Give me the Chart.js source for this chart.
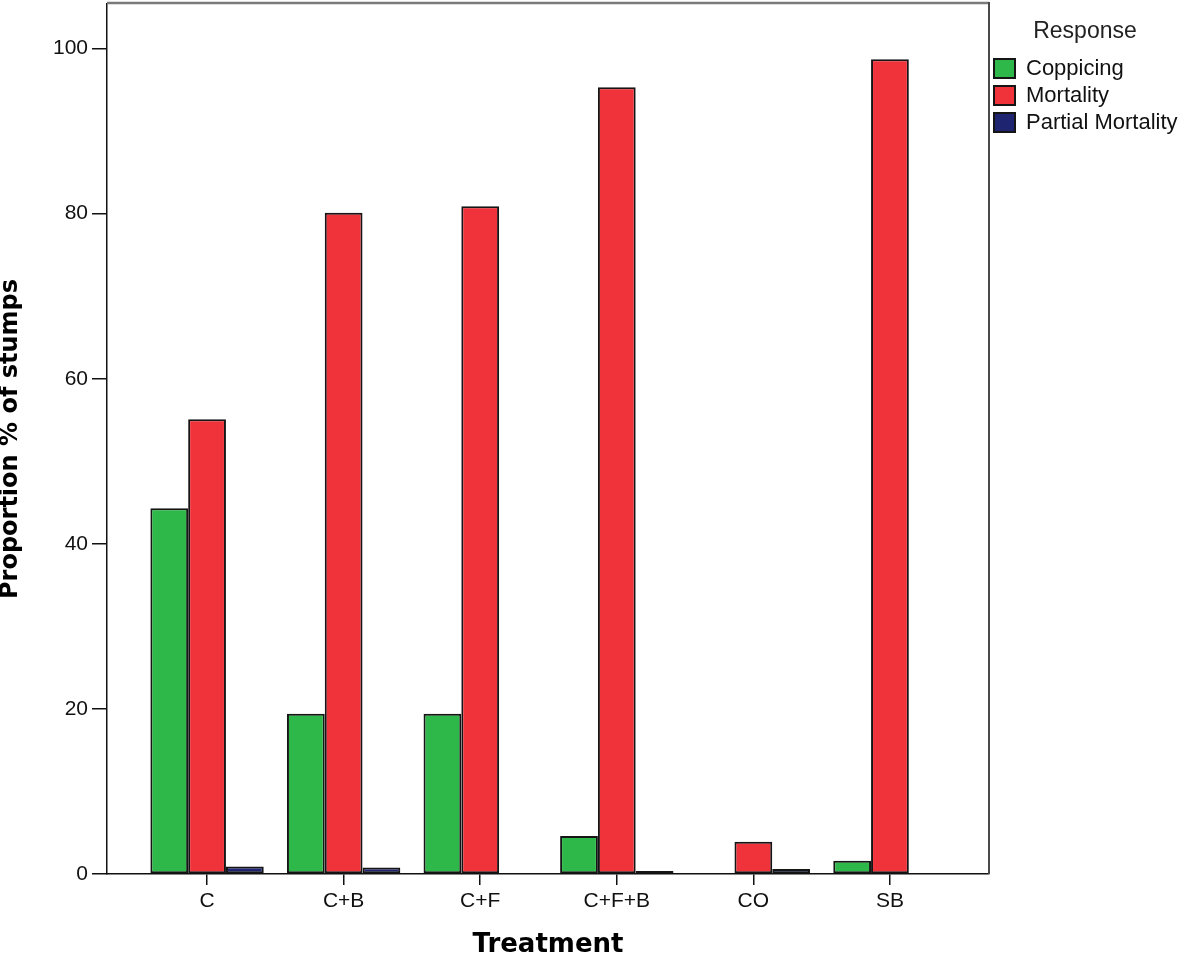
<!DOCTYPE html>
<html><head><meta charset="utf-8">
<script src="https://cdn.jsdelivr.net/npm/chart.js@4/dist/chart.umd.min.js"></script>
<style>html,body{margin:0;padding:0;background:#fff}#wrap{width:1181px;height:961px;position:relative}</style>
</head><body><div id="wrap"><canvas id="c"></canvas></div>
<script>
const treatments = ['C', 'C+B', 'C+F', 'C+F+B', 'CO', 'SB'];
const positions = [1, 2, 3, 4, 5, 6];
const coppicing = [44.3, 19.4, 19.4, 4.6, null, 1.6];
const mortality = [55.1, 80.1, 80.9, 95.3, 3.9, 98.7];
const partialMortality = [0.9, 0.8, null, 0.35, 0.6, null];
const yTicks = [0, 20, 40, 60, 80, 100];
const seriesNames = ['Coppicing', 'Mortality', 'Partial Mortality'];

const LEGEND_W = 192;
const toPoints = arr => arr.map((v, i) => ({x: positions[i], y: v}));

const frame = {
  id: 'frame',
  beforeLayout(chart) {
    const lg = chart.legend;
    if (lg && !lg._patched) {
      const f = lg.fit.bind(lg);
      lg.fit = function () { f(); this.width = LEGEND_W; };
      lg._patched = true;
    }
  },
  afterDraw(chart) {
    const {ctx, chartArea: a} = chart;
    ctx.save();
    ctx.strokeStyle = '#7a7a7a';
    ctx.lineWidth = 2.5;
    ctx.beginPath();
    ctx.moveTo(a.left, a.top - 1);
    ctx.lineTo(a.right, a.top - 1);
    ctx.stroke();
    ctx.strokeStyle = '#4a4a4a';
    ctx.lineWidth = 2;
    ctx.beginPath();
    ctx.moveTo(a.right, a.top - 2);
    ctx.lineTo(a.right, a.bottom);
    ctx.stroke();
    ctx.restore();
  }
};

const colors = ['#2eb84a', '#f0323a', '#1e2470'];
const series = [coppicing, mortality, partialMortality];

new Chart(document.getElementById('c'), {
  type: 'bar',
  data: {
    datasets: series.map((s, i) => ({
      label: seriesNames[i],
      data: toPoints(s),
      backgroundColor: colors[i],
      borderColor: '#151515',
      borderWidth: 2,
      borderSkipped: false,
      barPercentage: 1.0,
      categoryPercentage: 0.83
    }))
  },
  options: {
    responsive: true,
    maintainAspectRatio: false,
    animation: false,
    devicePixelRatio: 1,
    layout: {padding: {top: 4, left: 0, right: 0, bottom: 0}},
    plugins: {
      tooltip: {enabled: false},
      legend: {
        position: 'right',
        align: 'start',
        title: {
          display: true,
          text: 'Response',
          color: '#222',
          font: {family: 'Liberation Sans', size: 23},
          padding: {top: 16, bottom: 5}
        },
        labels: {
          color: '#111',
          font: {family: 'Liberation Sans', size: 22},
          boxWidth: 21,
          boxHeight: 19,
          padding: 5
        }
      }
    },
    scales: {
      x: {
        type: 'linear',
        offset: false,
        min: 1 - 100 / 136.5,
        max: 6 + 99 / 136.5,
        afterBuildTicks: s => { s.ticks = positions.map(v => ({value: v})); },
        afterFit: s => { s.height = 87; s.paddingLeft = 0; s.paddingRight = 0; },
        ticks: {
          autoSkip: false,
          maxRotation: 0,
          padding: 4,
          color: '#111',
          font: {family: 'Liberation Sans', size: 21},
          callback: v => treatments[positions.indexOf(v)] ?? ''
        },
        grid: {offset: false, drawOnChartArea: false, drawTicks: true, tickLength: 11, color: '#111', lineWidth: 1.5},
        border: {display: true, color: '#111', width: 1.5},
        title: {
          display: true,
          text: 'Treatment',
          color: '#000',
          font: {family: 'DejaVu Sans', size: 26, weight: 'bold', lineHeight: 1.2},
          padding: {top: 0, bottom: 0}
        }
      },
      y: {
        type: 'linear',
        min: 0,
        max: 105.4,
        afterBuildTicks: s => { s.ticks = yTicks.map(v => ({value: v})); },
        afterFit: s => { s.width = 107; s.paddingTop = 0; s.paddingBottom = 0; },
        ticks: {
          padding: 4,
          color: '#111',
          font: {family: 'Liberation Sans', size: 21}
        },
        grid: {drawOnChartArea: false, drawTicks: true, tickLength: 15, color: '#111', lineWidth: 1.5},
        border: {display: true, color: '#111', width: 1.5},
        title: {
          display: true,
          text: 'Proportion % of stumps',
          color: '#000',
          font: {family: 'DejaVu Sans', size: 24, weight: 'bold', lineHeight: 0.9},
          padding: {top: 0, bottom: 0}
        }
      }
    }
  },
  plugins: [frame]
});
</script>
</body></html>
